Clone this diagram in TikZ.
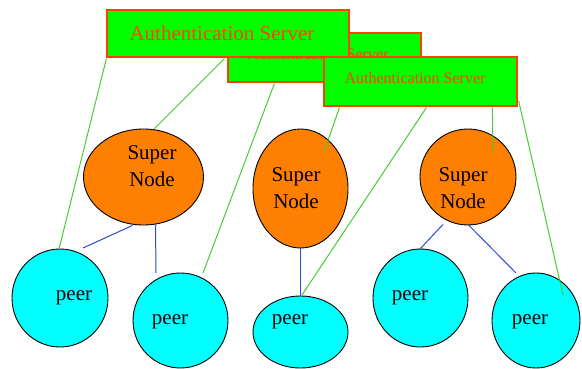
\documentclass[tikz,border=0pt]{standalone}
\usepackage{fontspec}
\setmainfont{Liberation Serif}
\usetikzlibrary{shapes.geometric,calc}
\definecolor{boxgreen}{RGB}{0,255,0}
\definecolor{boxred}{RGB}{255,64,0}
\definecolor{snorange}{RGB}{255,128,0}
\definecolor{peercyan}{RGB}{0,255,255}
\definecolor{lgreen}{RGB}{70,205,50}
\definecolor{lblue}{RGB}{50,70,210}
\tikzset{
  sn/.style={ellipse,draw=black,fill=snorange,line width=0.9pt,inner sep=0pt},
  peer/.style={ellipse,draw=black,fill=peercyan,line width=0.9pt,inner sep=0pt},
  authbox/.style={rectangle,draw=boxred,fill=boxgreen,line width=1.2pt,inner sep=0pt},
  gl/.style={draw=lgreen,line width=1pt},
  bl/.style={draw=lblue,line width=1pt},
  lbl/.style={font=\rmfamily\fontsize{21}{27}\selectfont,align=center,inner sep=0pt},
  srv/.style={text=boxred,inner sep=0pt},
}
\begin{document}
\begin{tikzpicture}[x=1pt,y=-1pt]
\useasboundingbox (0,0) rectangle (582,369);
% super nodes
\node[sn,minimum width=120pt,minimum height=96pt] (s1) at (143.5,177) {};
\node[sn,minimum width=95pt,minimum height=119pt] (s2) at (300.5,188.5) {};
\node[sn,minimum width=96pt,minimum height=96pt] (s3) at (468,177) {};
% peers
\node[peer,minimum width=96pt,minimum height=98pt] (p1) at (60,298) {};
\node[peer,minimum width=95pt,minimum height=95pt] (p2) at (180.5,320.5) {};
\node[peer,minimum width=95pt,minimum height=72pt] (p3) at (300.5,332) {};
\node[peer,minimum width=95pt,minimum height=98pt] (p4) at (420.5,298) {};
\node[peer,minimum width=88pt,minimum height=95pt] (p5) at (536,320.5) {};
% labels
\node[lbl] (t1) at (152,166) {Super\\Node};
\node[lbl] (t2) at (296,188) {Super\\Node};
\node[lbl] (t3) at (463,188) {Super\\Node};
\node[lbl] (q1) at (74,298) {peer};
\node[lbl] (q2) at (170,322) {peer};
\node[lbl] (q3) at (290,322) {peer};
\node[lbl] (q4) at (410,298) {peer};
\node[lbl] (q5) at (530,322) {peer};
% boxes
\node[authbox,minimum width=193pt,minimum height=49pt] (b2) at (324.5,57.5) {};
\node[srv,font=\rmfamily\fontsize{16}{18}\selectfont] (b2t) at (318,54) {Authentication Server};
\node[authbox,minimum width=242pt,minimum height=47pt] (b1) at (228,33.5) {};
\node[srv,font=\rmfamily\fontsize{21}{24}\selectfont] (b1t) at (222,33) {Authentication Server};
\node[authbox,minimum width=193pt,minimum height=49pt] (b3) at (420.5,81.5) {};
\node[srv,font=\rmfamily\fontsize{16}{18}\selectfont] (b3t) at (415,78) {Authentication Server};
% connector end points
\coordinate (e1) at (59,249);
\coordinate (e2) at (154,129);
\coordinate (e3) at (203,273);
\coordinate (e4) at (324,152);
\coordinate (e5) at (302,295);
\coordinate (e6) at (493,152);
\coordinate (e7) at (563,295);
\coordinate (f1) at (83,248);
\coordinate (f2) at (156,273);
\coordinate (f3) at (420,249);
\coordinate (f4) at (516,273);
% green connectors
\draw[gl] ($(b1.south west)+(0,1)$) -- (e1);
\draw[gl] ($(b1.south west)+(118,1)$) -- (e2);
\draw[gl] ($(b2.south west)+(47,1)$) -- (e3);
\draw[gl] ($(b3.south west)+(16,1)$) -- (e4);
\draw[gl] ($(b3.south west)+(103,1)$) -- (e5);
\draw[gl] ($(b3.south west)+(169,1)$) -- (e6);
\draw[gl] ($(b3.south east)+(1,-6)$) -- (e7);
% blue connectors
\draw[bl] ($(s1.south)+(-11,0)$) -- (f1);
\draw[bl] ($(s1.south)+(12,-1)$) -- (f2);
\draw[bl] (s2.south) -- (p3.north);
\draw[bl] ($(s3.south)+(-25,-1)$) -- (f3);
\draw[bl] ($(s3.south)+(0,-1)$) -- (f4);
\end{tikzpicture}
\end{document}
